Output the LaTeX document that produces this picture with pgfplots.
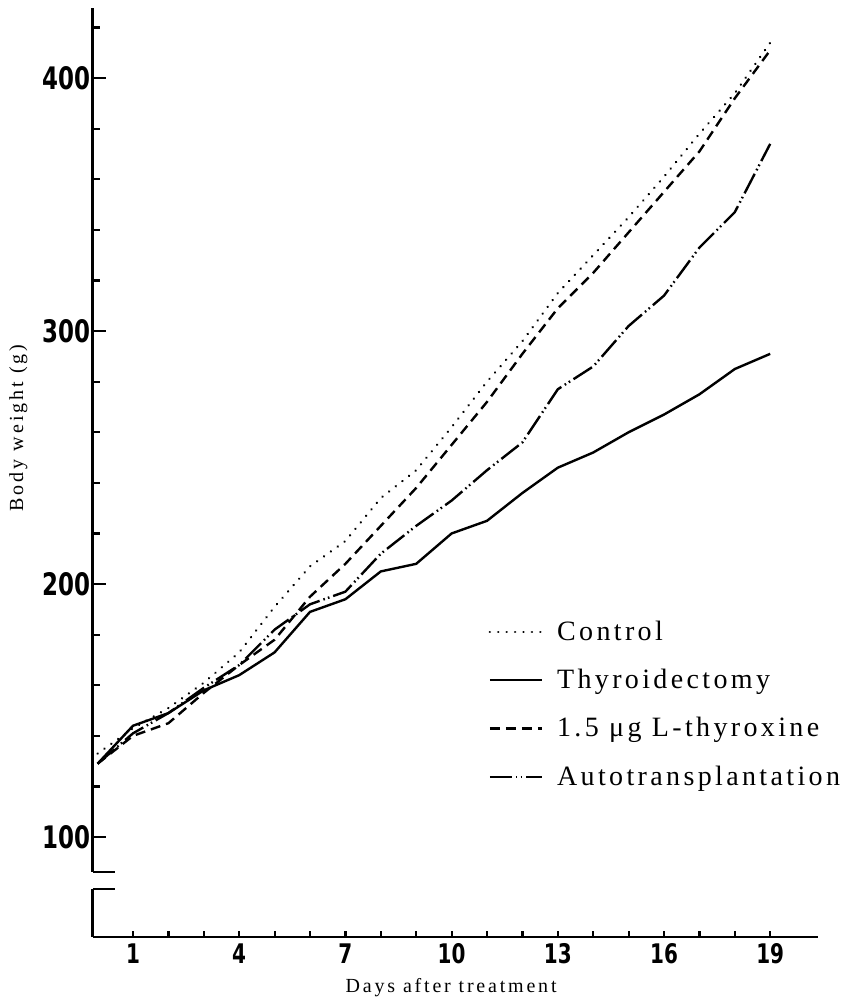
\documentclass[border=0pt]{standalone}
\usepackage{fontspec}
\setmainfont{Liberation Serif}
\newfontfamily\tickfont[FakeStretch=0.74]{DejaVu Sans}
\newfontfamily\legfont[LetterSpace=12]{Liberation Serif}
\newfontfamily\xlabfont[LetterSpace=14]{Liberation Serif}
\newfontfamily\ylabfont[LetterSpace=15]{Liberation Serif}
\usepackage{pgfplots}
\pgfplotsset{compat=1.18}

% body weight (g) per day, days 0..19
\pgfplotstableread{
day control thyroid thyrox auto
0  133 129 129 129
1  143 144 140 141
2  151 149 145 149
3  161 158 157 159
4  173 164 168 168
5  191 173 178 182
6  207 189 195 192
7  217 194 208 197
8  234 205 223 212
9  245 208 238 223
10 262 220 255 233
11 280 225 272 245
12 296 236 291 256
13 315 246 309 277
14 330 252 323 286
15 345 260 339 302
16 361 267 355 314
17 378 275 371 333
18 394 285 392 347
19 414 291 411 374
}\weights

\begin{document}
\begin{tikzpicture}
\begin{axis}[
  scale only axis,
  width=362.5pt, height=464.5pt,
  xmin=-0.13, xmax=20.35,
  ymin=60.5, ymax=427.7,
  clip=false,
  axis x line=bottom, axis y line=left,
  axis line style={-, line width=1.3pt},
  y axis line style={draw=none},
  tick align=inside,
  xtick={1,4,...,19},
  minor xtick={1,...,19},
  ytick={100,200,300,400},
  minor ytick={120,140,...,420},
  major tick length=6.5pt, minor tick length=3.5pt,
  tick style={line width=1.1pt, black},
  xtick style={/pgfplots/major tick length=3pt, /pgfplots/minor tick length=3pt},
  /pgf/number format/assume math mode=true,
  yticklabel style={font=\tickfont\bfseries\fontsize{15.5}{17}\selectfont,
    inner sep=0pt, xshift=-1pt},
  xticklabel style={font=\tickfont\bfseries\fontsize{13.5}{15}\selectfont,
    inner sep=0pt, yshift=-3pt},
  xlabel={Days after treatment},
  ylabel={Body weight (g)},
  xlabel style={font=\xlabfont\fontsize{10}{12}\selectfont,
    at={(axis description cs:0.494,-0.0592)}, anchor=base},
  ylabel style={font=\ylabfont\fontsize{10}{12}\selectfont,
    at={(axis description cs:-0.103,0.548)}, anchor=center},
  legend style={at={(0.545,0.2503)}, anchor=west, draw=none, fill=none,
    font=\legfont\fontsize{14}{16}\selectfont, row sep=13pt,
    inner sep=0pt, nodes={inner xsep=7pt, inner ysep=0pt},
    cells={anchor=west}},
  legend image code/.code={\draw[#1] (0pt,0pt) -- (26pt,0pt);},
]
\addplot[black, line width=1.3pt, line cap=round, dash pattern=on 0.01pt off 4.2pt]
  table[x=day, y=control] {\weights};
\addlegendentry{Control}
\addplot[black, line width=1.2pt]
  table[x=day, y=thyroid] {\weights};
\addlegendentry{Thyroidectomy}
\addplot[black, line width=1.2pt, dash pattern=on 5pt off 3pt]
  table[x=day, y=thyrox] {\weights};
\addlegendentry{1.5 μg L-thyroxine}
\addplot[black, line width=1.2pt, dash pattern=on 11pt off 2pt on 0.8pt off 1.6pt on 0.8pt off 2pt]
  table[x=day, y=auto] {\weights};
\addlegendentry{Autotransplantation}

% broken y axis
\draw[line width=1.5pt] (axis cs:-0.13,86.2) -- (axis cs:-0.13,427.7);
\draw[line width=1.3pt] (axis cs:-0.13,86.2) -- ++(11pt,0pt);
\draw[line width=1.5pt] (axis cs:-0.13,60.5) -- (axis cs:-0.13,79.4);
\draw[line width=1.3pt] (axis cs:-0.13,79.4) -- ++(11pt,0pt);
\coordinate (O) at (rel axis cs:0,0);
\end{axis}
\pgfresetboundingbox
\path (O) ++(-46.5pt,-30.5pt) rectangle ++(425.5pt,499pt);
\end{tikzpicture}
\end{document}
